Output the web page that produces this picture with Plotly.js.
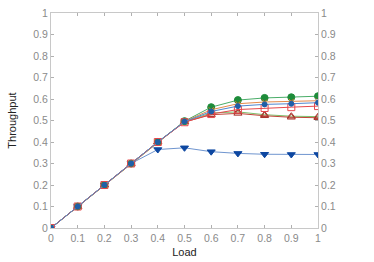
<!DOCTYPE html>
<html><head><meta charset="utf-8">
<script src="https://cdn.plot.ly/plotly-3.0.1.min.js"></script>
<style>html,body{margin:0;padding:0;background:#fff}#c{width:374px;height:262px}</style>
</head><body><div id="c"></div>
<script>
const load = [0,0.1,0.2,0.3,0.4,0.5,0.6,0.7,0.8,0.9,1];
const sBlueTri = [0,0.1,0.2,0.3,0.365,0.373,0.355,0.347,0.343,0.342,0.342];
const sGreenTri = [0,0.1,0.2,0.3,0.4,0.495,0.535,0.54,0.527,0.52,0.518];
const sRedTri = [0,0.1,0.2,0.3,0.4,0.493,0.527,0.533,0.522,0.515,0.513];
const sGreen = [0,0.1,0.2,0.3,0.4,0.497,0.562,0.595,0.605,0.608,0.613];
const sOrange = [0,0.1,0.2,0.3,0.4,0.496,0.55,0.578,0.586,0.589,0.592];
const sBlue = [0,0.1,0.2,0.3,0.4,0.495,0.542,0.567,0.575,0.578,0.583];
const sRedSq = [0,0.1,0.2,0.3,0.4,0.492,0.53,0.551,0.558,0.562,0.567];
const yTicks = [0,0.1,0.2,0.3,0.4,0.5,0.6,0.7,0.8,0.9,1];
const yTickText = ['0','0.1','0.2','0.3','0.4','0.5','0.6','0.7','0.8','0.9','1'];

function tr(y, lineColor, sym, mColor, mFill, size, lw){
  return {x: load, y: y, type:'scatter', mode:'lines+markers',
    line:{color:lineColor, width: lw||1},
    marker:{symbol:sym, size:size, color:mFill, line:{color:mColor, width:1}},
    showlegend:false, hoverinfo:'none'};
}
const data = [
  tr(sBlueTri, '#6f95cf', 'triangle-down', '#0d47a1', '#0d47a1', 7),
  tr(sGreenTri, '#7cbf6a', 'triangle-up-open', '#a8322a', '#a8322a', 7),
  tr(sRedTri, '#c0463a', 'triangle-up-open', '#a8322a', '#a8322a', 7),
  tr(sGreen, '#4aad68', 'circle', '#1d8c3a', '#1d8c3a', 7),
  tr(sOrange, '#e58a4a', 'x-thin-open', '#e07030', '#e07030', 5),
  tr(sRedSq, '#e5484d', 'square-open', '#e5484d', '#e5484d', 7),
  tr(sBlue, '#4f86d0', 'circle', '#1f5fa8', '#1f5fa8', 5),
  {x:[0], y:[0], yaxis:'y2', type:'scatter', mode:'markers', marker:{opacity:0}, showlegend:false, hoverinfo:'none'}
];
const axCommon = {
  showgrid:false, zeroline:false, showline:true, linecolor:'#c8c8c8', linewidth:1,
  ticks:'inside', ticklen:3, tickcolor:'#b0b0b0',
  tickfont:{family:'Liberation Sans, Arial, sans-serif', size:10.5, color:'#8a8a8a'}
};
const layout = {
  width:374, height:262,
  margin:{l:51, r:56, t:13, b:34},
  paper_bgcolor:'#fff', plot_bgcolor:'#fff',
  xaxis: Object.assign({}, axCommon, {range:[0,1], tickvals:yTicks, ticktext:yTickText, mirror:'ticks',
    title:{text:'Load', font:{family:'Liberation Sans, Arial, sans-serif', size:11, color:'#222'}, standoff:5}}),
  yaxis: Object.assign({}, axCommon, {range:[0,1], tickvals:yTicks, ticktext:yTickText,
    title:{text:'Throughput', font:{family:'Liberation Sans, Arial, sans-serif', size:11, color:'#222'}, standoff:14}}),
  yaxis2: Object.assign({}, axCommon, {range:[0,1], tickvals:yTicks, ticktext:yTickText, overlaying:'y', side:'right'})
};
Plotly.newPlot('c', data, layout, {displayModeBar:false, staticPlot:true});
</script></body></html>
